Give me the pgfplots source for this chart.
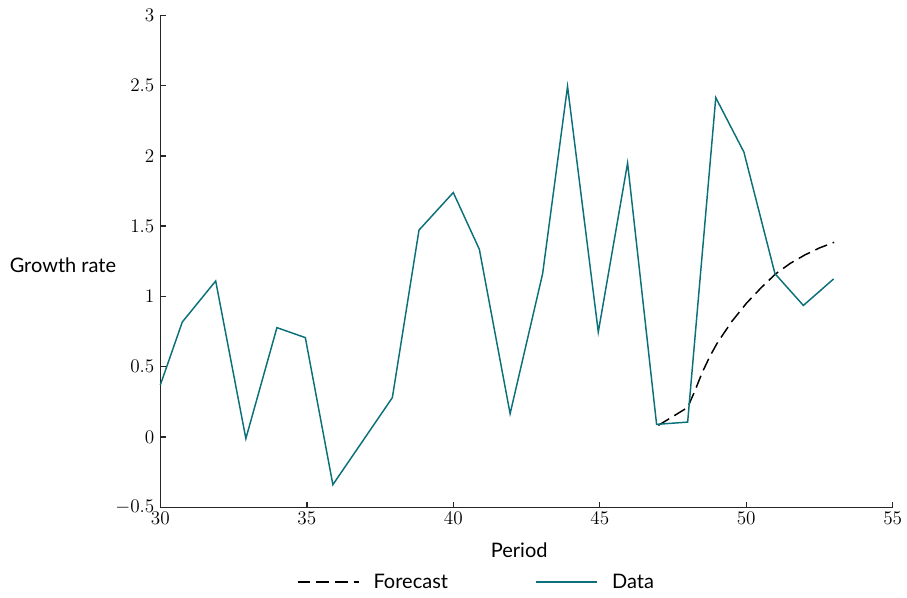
\documentclass[border=0pt]{standalone}
\usepackage{fontspec}
\setmainfont{Lato}
\usepackage{pgfplots}
\pgfplotsset{compat=1.18}
\definecolor{dteal}{RGB}{12,112,122}
\begin{document}
\begin{tikzpicture}
\begin{axis}[
  scale only axis,
  width=549.3pt, height=369pt,
  xmin=30, xmax=55, ymin=-0.5, ymax=3,
  xtick={30,35,...,55},
  ytick={-0.5,0,0.5,1,1.5,2,2.5,3},
  axis x line*=bottom, axis y line*=left,
  axis line style={line width=1.1pt, black!85},
  tick style={line width=1.1pt, black!85},
  tick align=inside, major tick length=4pt,
  tick label style={font=\fontsize{14.8}{17}\selectfont},
  yticklabel style={xshift=-1pt},
  clip=false,
  xlabel={Period},
  xlabel style={font=\fontsize{15}{18}\selectfont, at={(rel axis cs:0.49,-0.087)}, anchor=center},
  ylabel={Growth rate},
  ylabel style={font=\fontsize{15}{18}\selectfont, rotate=-90, at={(rel axis cs:-0.133,0.492)}, anchor=center},
  legend columns=2,
  legend style={draw=none, fill=none, font=\fontsize{15}{18}\selectfont,
    at={(rel axis cs:0.432,-0.152)}, anchor=center,
    /tikz/every even column/.append style={column sep=63.5pt}},
  legend image code/.code={\draw[#1] (0pt,0pt) -- (46pt,0pt); \path[draw=none,fill=none] (0pt,0pt) -- (55pt,0pt);},
]
\path (rel axis cs:-0.2189,-0.1843) rectangle (rel axis cs:1.0195,1.0311);
\addplot[black, line width=1.1pt, dash pattern=on 9.5pt off 4.5pt] coordinates {
(47,0.083) (48,0.21) (48.25,0.33) (48.5,0.46) (48.75,0.57) (49,0.665)
(49.5,0.82) (50,0.95) (50.5,1.06) (51,1.16) (51.5,1.235) (52,1.295)
(52.5,1.345) (53,1.385)};
\addlegendentry{Forecast}
\addplot[dteal, line width=1.1pt] coordinates {
(30,0.37) (30.75,0.818) (31.89,1.11) (32.92,-0.011) (33.98,0.778)
(34.95,0.707) (35.89,-0.339) (37.92,0.28) (38.83,1.472) (40.0,1.739)
(40.89,1.335) (41.94,0.166) (43.05,1.162) (43.90,2.494) (44.95,0.747)
(45.95,1.949) (46.94,0.090) (48.0,0.106) (48.96,2.414) (49.92,2.027)
(50.98,1.162) (51.95,0.936) (52.98,1.124)};
\addlegendentry{Data}
\end{axis}
\end{tikzpicture}
\end{document}
